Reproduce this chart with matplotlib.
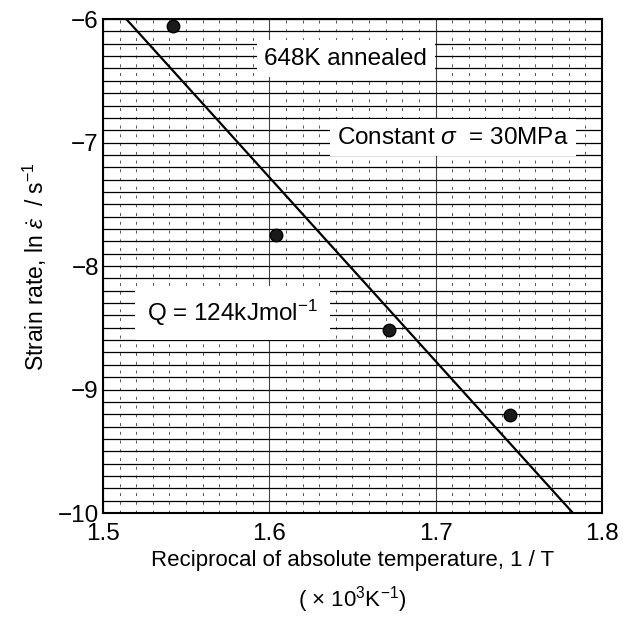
import numpy as np
import matplotlib
matplotlib.use("Agg")
import matplotlib.pyplot as plt
from matplotlib.ticker import MultipleLocator

plt.rcParams['font.family'] = ['Liberation Sans', 'DejaVu Sans']
plt.rcParams['mathtext.fontset'] = 'custom'
plt.rcParams['mathtext.rm'] = 'Liberation Sans'
plt.rcParams['mathtext.it'] = 'Liberation Sans:italic'
plt.rcParams['mathtext.sf'] = 'Liberation Sans'

# measured points (1/T in 1e-3 K^-1, ln strain rate)
inv_T = [1.542, 1.604, 1.672, 1.745]
ln_rate = [-6.06, -7.75, -8.52, -9.21]

# fitted Arrhenius line, Q = 124 kJ/mol
fit_x = [1.514, 1.7826]
fit_y = [-6.0, -10.0]

xticks = [1.5, 1.6, 1.7, 1.8]
yticks = [-10, -9, -8, -7, -6]

fig = plt.figure(figsize=(6.26, 6.19), dpi=100)
ax = fig.add_axes([0.1645, 0.1712, 0.797, 0.798])

ax.set_xlim(1.5, 1.8)
ax.set_ylim(-10, -6)
ax.set_xticks(xticks)
ax.set_yticks(yticks)
ax.xaxis.set_minor_locator(MultipleLocator(0.01))
ax.yaxis.set_minor_locator(MultipleLocator(0.1))

# graph paper grid
ax.grid(axis='y', which='both', color='black', lw=0.9)
ax.grid(axis='x', which='minor', color='#555555', lw=0.7, linestyle=(0, (3, 6)))
ax.grid(axis='x', which='major', color='#444444', lw=0.8)
ax.set_axisbelow(True)

ax.tick_params(which='both', length=0, labelsize=17.5)
ax.tick_params(axis='x', pad=7)
ax.tick_params(axis='y', pad=3)
for s in ax.spines.values():
    s.set_linewidth(1.5)

ax.plot(fit_x, fit_y, color='black', lw=1.6, zorder=3)
ax.plot(inv_T, ln_rate, 'o', ms=9, color='#1a1a1a', mec='black', zorder=4)

box = dict(boxstyle='square,pad=0.3', fc='white', ec='none')
ax.text(1.646, -6.32, '648K annealed', fontsize=17.5, ha='center', va='center',
        bbox=box, zorder=5)
ax.text(1.7105, -6.96, r'Constant $\mathit{\sigma}$  = 30MPa', fontsize=17.5,
        ha='center', va='center', bbox=box, zorder=5)
ax.text(1.578, -8.38, r'Q = 124kJmol$^{-1}$', fontsize=17.5, ha='center',
        va='center', bbox=dict(boxstyle='square,pad=0.5', fc='white', ec='none'),
        zorder=5)

ax.set_ylabel(r'Strain rate, ln $\dot{\varepsilon}$  / s$^{-1}$', fontsize=16.5, labelpad=6)
ax.set_xlabel('Reciprocal of absolute temperature, 1 / T\n'
              r'( $\times$ 10$^3$K$^{-1}$)', fontsize=16, labelpad=4,
              linespacing=1.55)

fig.savefig('out.png', dpi=100)
